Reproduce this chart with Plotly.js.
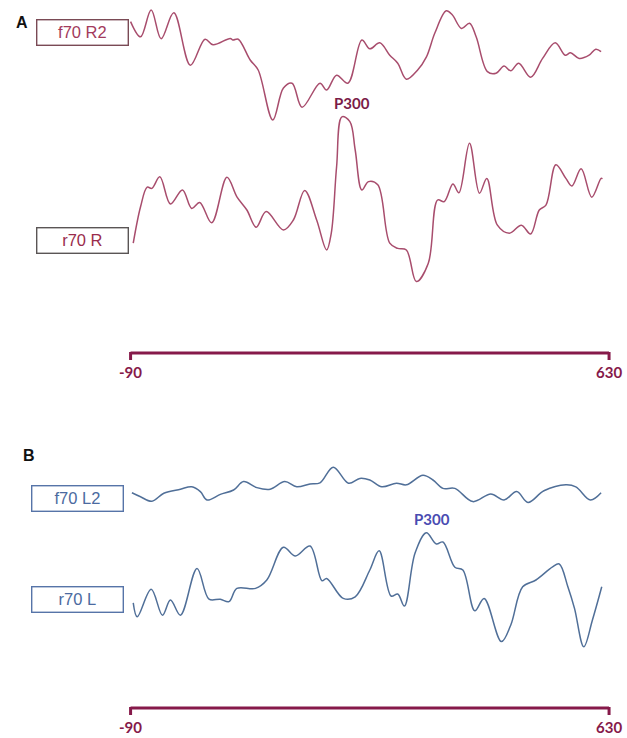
<!DOCTYPE html>
<html>
<head>
<meta charset="utf-8">
<script src="https://cdn.plot.ly/plotly-3.0.1.min.js"></script>
<style>html,body{margin:0;padding:0;background:#fff;}#chart{width:627px;height:738px;}</style>
</head>
<body>
<div id="chart"></div>
<script>
// ---- Data (time in ms, amplitude in arbitrary µV units) ----
var tF70R2 = [-90,-75,-59,-44,-25,0,22,34,60,64,72,90,102,124,140,153,168,195,205,220,237,258,270,285,300,312,325,342,355,368,385,394,408,420,430,447,460,472,482,494,512,530,549,564,572,585,600,610,618];
var aF70R2 = [7.1,3.3,10,2.8,9.3,-3.8,2.7,1.3,2.9,2.5,2.7,-2.5,-5,-17.5,-9.5,-8.3,-14.3,-8.3,-10,-6.3,-8.3,2.5,0.3,1.8,-1.3,-3.3,-7.3,-5,-1.8,4.3,9.8,8.8,5.4,6.7,3.3,-5.4,-5.8,-4,-5.2,-3.3,-6.8,-2.1,1.8,-1.3,-0.7,-2.1,-1.3,0.2,-0.4];

var tR70R = [-86,-75,-65,-58,-46,-30,-12,2,14,32,55,70,85,99,114,140,155,172,190,205,212,220,228,240,248,258,268,282,300,312,325,340,358,372,382,395,404,420,435,446,462,480,498,512,525,535,550,565,574,588,604,618,620];
var aR70R = [-10.8,-1.7,3.2,2.9,5.8,-1,2.5,-2.1,-0.6,-5.7,5.7,0.8,-2.5,-6.8,-2.9,-7.5,-5,2.4,-5,-12.5,-8.3,8.3,20.8,19.6,12.5,2.5,4.6,3.8,-10.8,-12.1,-12.5,-20.4,-15.8,0,-0.4,4,1.8,14.2,1.7,5.4,-6.3,-8.3,-6.3,-8.5,-2.5,-1.3,8.8,5.4,3.5,7.8,0.7,5.4,5.3];

var tF70L2 = [-88,-75,-58,-40,-15,2,15,25,45,65,80,100,120,142,160,180,195,215,238,255,270,288,310,325,350,365,380,398,425,452,472,491,508,532,565,580,602,618];
var aF70L2 = [-0.7,-1.7,-2.8,-0.8,0.2,0.8,-0.4,-2.5,-1.1,0,2.1,0.6,0.2,2.1,0.8,1.5,1.8,5.7,1.7,2.9,2.5,0.8,1.7,1.3,3.7,2.5,0.4,0.4,-2.9,-1,-2.5,-0.4,-3.1,-0.2,1.3,0.8,-2.5,-0.7];

var tR70L = [-86,-80,-59,-42,-30,-15,10,28,45,58,70,98,115,140,158,180,198,205,230,248,270,284,302,312,322,338,355,370,380,398,410,428,442,468,482,500,520,545,555,568,578,592,605,619];
var aR70L = [-3.2,-6.7,0.2,-6.3,-2.5,-6.3,5.4,-2.3,-2.3,-2.9,0.4,0.4,2.5,10.7,8.5,11,2.3,2.9,-2.1,-1.7,5,9.8,-1.5,-1,-4,9.2,14.3,11.5,12,5.7,5,-5.2,-2.1,-12.9,-8.8,0.8,2.5,5.8,6.5,0.8,-4.6,-14.2,-7.5,0.8];

var traceLabels = ["f70 R2", "r70 R", "f70 L2", "r70 L"];
var panelLabels = ["A", "B"];
var peakLabel = "P300";
var scaleTicks = [-90, 630];
var scaleTickText = ["-90", "630"];

// ---- Layout helpers ----
var W = 627, H = 738, PXPU = 4;
function yr(base){ return [(base - H)/PXPU, base/PXPU]; }
function py(px){ return 1 - px/H; }

var roseLine = '#a84d6d', blueLine = '#506f98';
var maroon = '#861a4a';

var traces = [
  {x:tF70R2, y:aF70R2, yaxis:'y',  line:{color:roseLine}},
  {x:tR70R,  y:aR70R,  yaxis:'y2', line:{color:roseLine}},
  {x:tF70L2, y:aF70L2, yaxis:'y3', line:{color:blueLine}},
  {x:tR70L,  y:aR70L,  yaxis:'y4', line:{color:blueLine}}
].map(function(t){
  t.type='scatter'; t.mode='lines'; t.hoverinfo='skip';
  t.line.width=1.5; t.line.shape='spline'; t.line.smoothing=1;
  return t;
});

function hidden(extra){
  var o = {visible:false, fixedrange:true, domain:[0,1]};
  for (var k in extra) o[k]=extra[k];
  return o;
}

var shapes = [];
var annotations = [];
// scale bars
[353, 708].forEach(function(ypx){
  shapes.push({type:'line', xref:'x', yref:'paper', x0:scaleTicks[0], x1:scaleTicks[1], y0:py(ypx), y1:py(ypx), line:{color:maroon, width:3}});
  scaleTicks.forEach(function(tv, i){
    shapes.push({type:'line', xref:'x', yref:'paper', x0:tv, x1:tv, y0:py(ypx-1), y1:py(ypx+7), line:{color:maroon, width:3}});
    annotations.push({xref:'x', yref:'paper', x:tv, y:py(ypx+19), text:scaleTickText[i], showarrow:false,
      xanchor:'center', yanchor:'middle', font:{family:'Lato, Open Sans, sans-serif', size:15, color:maroon, weight:'bold'}});
  });
});

// panel letters
annotations.push({xref:'paper', yref:'paper', x:22/W, y:py(22), text:'<b>'+panelLabels[0]+'</b>', showarrow:false, xanchor:'center', yanchor:'middle', font:{family:'Liberation Sans, Arial, sans-serif', size:16, color:'#111'}});
annotations.push({xref:'paper', yref:'paper', x:29/W, y:py(455), text:'<b>'+panelLabels[1]+'</b>', showarrow:false, xanchor:'center', yanchor:'middle', font:{family:'Liberation Sans, Arial, sans-serif', size:16, color:'#111'}});

// label boxes
var boxes = [
  {cx:82, cy:32,  text:traceLabels[0], color:'#a33a5c', border:'#7a4a55'},
  {cx:83, cy:241, text:traceLabels[1], color:'#9a2c4c', border:'#5a5555'},
  {cx:77, cy:498, text:traceLabels[2], color:'#4b6aa0', border:'#5674a8'},
  {cx:77, cy:599, text:traceLabels[3], color:'#4b6aa0', border:'#5674a8'}
];
boxes.forEach(function(b){
  annotations.push({xref:'paper', yref:'paper', x:b.cx/W, y:py(b.cy), text:b.text, showarrow:false,
    xanchor:'center', yanchor:'middle', width:88, height:22, borderpad:1, borderwidth:1.4, bordercolor:b.border,
    bgcolor:'rgba(255,255,255,0)', font:{family:'Liberation Sans, Arial, sans-serif', size:16.5, color:b.color}});
});

// P300 markers
annotations.push({xref:'paper', yref:'paper', x:352/W, y:py(103), text:'<b>'+peakLabel+'</b>', showarrow:false, xanchor:'center', yanchor:'middle', font:{family:'Lato, Open Sans, sans-serif', size:15, color:'#7b1c48'}});
annotations.push({xref:'paper', yref:'paper', x:432/W, y:py(519), text:'<b>'+peakLabel+'</b>', showarrow:false, xanchor:'center', yanchor:'middle', font:{family:'Lato, Open Sans, sans-serif', size:15, color:'#4a4cb2'}});

var layout = {
  width:W, height:H, margin:{l:0,r:0,t:0,b:0},
  paper_bgcolor:'#fff', plot_bgcolor:'#fff', showlegend:false,
  xaxis:{visible:false, range:[-286.5, 657], fixedrange:true},
  yaxis:hidden({range:yr(50)}),
  yaxis2:hidden({range:yr(200), overlaying:'y'}),
  yaxis3:hidden({range:yr(490), overlaying:'y'}),
  yaxis4:hidden({range:yr(590), overlaying:'y'}),
  shapes:shapes, annotations:annotations
};

Plotly.newPlot('chart', traces, layout, {staticPlot:true, displayModeBar:false});
</script>
</body>
</html>
